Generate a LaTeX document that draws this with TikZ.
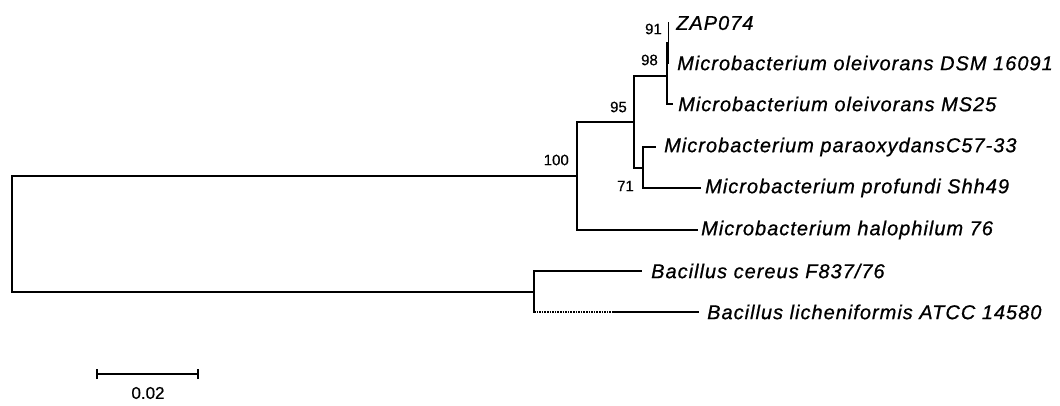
\documentclass[tikz,border=0pt]{standalone}
\usepackage{fontspec}
\setmainfont{Liberation Sans}
\newfontfamily\leaffont[LetterSpace=5,FakeBold=0.8]{Liberation Sans}
\newfontfamily\numfont[FakeBold=0.5]{Liberation Sans}
\begin{document}
\begin{tikzpicture}[x=1pt,y=-1pt,
  thickbr/.style={line width=2.2pt,line cap=rect},
  thinbr/.style={line width=1.3pt,line cap=rect},
  leaf/.style={anchor=west,inner sep=0pt,font=\leaffont\itshape\fontsize{20}{22}\selectfont},
  boot/.style={anchor=east,inner sep=0pt,font=\numfont\fontsize{15}{17}\selectfont},
  sclab/.style={inner sep=0pt,font=\numfont\fontsize{17}{19}\selectfont}]
\useasboundingbox (0,0) rectangle (1060,405);
% internal nodes
\coordinate (root) at (12,234);
\coordinate (n100) at (577,176);
\coordinate (nB) at (534,292);
\coordinate (n95) at (634,122);
\coordinate (n98) at (667,76);
\coordinate (n91) at (668.5,43);
\coordinate (n71) at (643,168);
% tips
\coordinate (tzap) at (669,23);
\coordinate (tdsm) at (669,63);
\coordinate (tms) at (672,104);
\coordinate (tpara) at (655,147);
\coordinate (tprof) at (700,188);
\coordinate (thal) at (697,230);
\coordinate (tcer) at (641,271);
\coordinate (tlich) at (698,312);
\coordinate (dotend) at (614,312);
% labels
\node[leaf] (lzap) at (676,23) {ZAP074};
\node[leaf] (ldsm) at (677,63) {Microbacterium oleivorans DSM 16091};
\node[leaf] (lms) at (678,104) {Microbacterium oleivorans MS25};
\node[leaf] (lpara) at (664,147) {Microbacterium paraoxydansC57-33};
\node[leaf] (lprof) at (705,188) {Microbacterium profundi Shh49};
\node[leaf] (lhal) at (701,230) {Microbacterium halophilum 76};
\node[leaf] (lcer) at (651,271) {Bacillus cereus F837/76};
\node[leaf] (llich) at (707,312) {Bacillus licheniformis ATCC 14580};
% bootstrap values
\node[boot] (b91) at (662,29) {91};
\node[boot] (b98) at (658,60) {98};
\node[boot] (b95) at (627,107) {95};
\node[boot] (b100) at (569,160) {100};
\node[boot] (b71) at (634,186) {71};
% verticals
\draw[thickbr] (root |- n100) -- (root |- nB);
\draw[thinbr] (n100 |- n95) -- (n100 |- thal);
\draw[thickbr] (n95 |- n98) -- (n95 |- n71);
\draw[thinbr] (n98 |- n91) -- (n98 |- tms);
\draw[thinbr] (n91 |- tzap) -- (n91 |- tdsm);
\draw[thickbr] (n71 |- tpara) -- (n71 |- tprof);
\draw[thinbr] (nB |- tcer) -- (nB |- tlich);
% horizontals
\draw[thinbr] (root |- n100) -- (n100);
\draw[thickbr] (root |- nB) -- (nB);
\draw[thickbr] (n100 |- n95) -- (n95);
\draw[thickbr] (n100 |- thal) -- (thal);
\draw[thickbr] (n95 |- n98) -- (n98);
\draw[thickbr] (n95 |- n71) -- (n71);
\draw[thinbr] (n98 |- tms) -- (tms);
\draw[thickbr] (n71 |- tpara) -- (tpara);
\draw[thinbr] (n71 |- tprof) -- (tprof);
\draw[thickbr] (nB |- tcer) -- (tcer);
\draw[line width=1.6pt,densely dotted] (nB |- tlich) -- (dotend);
\draw[thickbr] (dotend) -- (tlich);
% scale bar
\coordinate (sbl) at (97,374);
\coordinate (sbr) at (198,374);
\draw[thinbr] (sbl) -- (sbr);
\draw[line width=1.6pt] ([yshift=-5pt]sbl) -- ([yshift=5pt]sbl);
\draw[line width=1.6pt] ([yshift=-5pt]sbr) -- ([yshift=5pt]sbr);
\node[sclab] (sc) at (148,393) {0.02};
\end{tikzpicture}
\end{document}
